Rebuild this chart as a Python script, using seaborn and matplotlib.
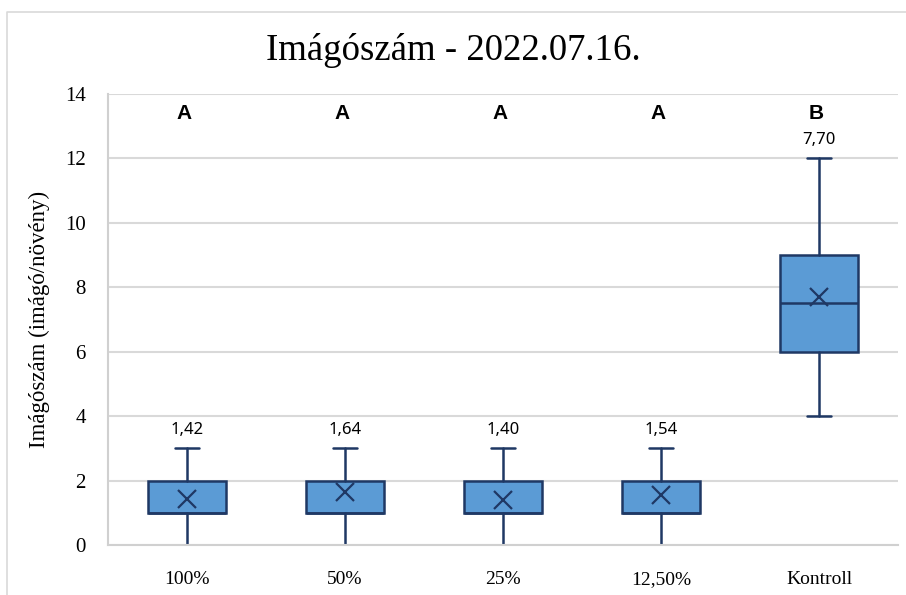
import matplotlib
matplotlib.use("Agg")
import matplotlib.pyplot as plt
import seaborn as sns
from matplotlib.lines import Line2D

categories = ["100%", "50%", "25%", "12,50%", "Kontroll"]
whisker_low = [0, 0, 0, 0, 4]
q1 = [1, 1, 1, 1, 6]
medians = [1, 1, 1, 1, 7.5]
q3 = [2, 2, 2, 2, 9]
whisker_high = [3, 3, 3, 3, 12]
means = [1.42, 1.64, 1.40, 1.54, 7.70]
groups = ["A", "A", "A", "A", "B"]
y_ticks = [0, 2, 4, 6, 8, 10, 12, 14]

sns.set_theme(style="whitegrid")
plt.rcParams["font.family"] = ["Liberation Serif", "DejaVu Serif"]

fig = plt.figure(figsize=(9.06, 5.95), dpi=100)
ax = fig.add_axes([108 / 906, 1 - 545 / 595, 790 / 906, 451 / 595])

stats = []
for i, c in enumerate(categories):
    stats.append(dict(label=c, whislo=whisker_low[i], q1=q1[i], med=medians[i],
                      q3=q3[i], whishi=whisker_high[i], mean=means[i], fliers=[]))

edge = "#1f3864"
fill = "#5b9bd5"
ax.bxp(stats, positions=range(len(categories)), widths=0.49, patch_artist=True,
       showmeans=True, capwidths=0.15,
       boxprops=dict(facecolor=fill, edgecolor=edge, linewidth=1.8),
       whiskerprops=dict(color=edge, linewidth=1.8),
       capprops=dict(color=edge, linewidth=1.8),
       medianprops=dict(color=edge, linewidth=1.8),
       meanprops=dict(marker="x", markeredgecolor=edge, markersize=13, markeredgewidth=1.6))

for i in range(len(categories)):
    ax.text(i, whisker_high[i] + 0.33, f"{means[i]:.2f}".replace(".", ","),
            ha="center", va="bottom", fontsize=12, family=["Noto Sans", "DejaVu Sans"],
            color="black")
    ax.text(i - 0.02, 13.4, groups[i], ha="center", va="center", fontsize=15,
            fontweight="bold", family=["Liberation Sans", "DejaVu Sans"], color="black")

ax.set_xlim(-0.5, len(categories) - 0.5)
ax.set_ylim(0, 14)
ax.set_yticks(y_ticks)
ax.set_yticklabels([str(t) for t in y_ticks])
ax.set_xticks(range(len(categories)))
ax.set_xticklabels(categories)
ax.tick_params(axis="y", labelsize=15, pad=16, length=0, colors="black")
ax.tick_params(axis="x", labelsize=14, pad=19, length=0, colors="black")
ax.grid(axis="y", color="#d9d9d9", linewidth=1.5)
ax.grid(axis="x", visible=False)
ax.set_axisbelow(True)
for side in ["top", "right"]:
    ax.spines[side].set_visible(False)
for side in ["left", "bottom"]:
    ax.spines[side].set_color("#d0d0d0")
    ax.spines[side].set_linewidth(1.5)

ax.set_ylabel("Imágószám (imágó/növény)", fontsize=16.5, labelpad=11, color="black")
fig.text(0.5, 1 - 50 / 595, "Imágószám - 2022.07.16.", ha="center", va="center",
         fontsize=26.5, color="black")

fig.add_artist(Line2D([7 / 906, 7 / 906, 1.0], [0, 1 - 12 / 595, 1 - 12 / 595],
                      transform=fig.transFigure, color="#d9d9d9", linewidth=1.2))

fig.savefig("out.png", dpi=100)
